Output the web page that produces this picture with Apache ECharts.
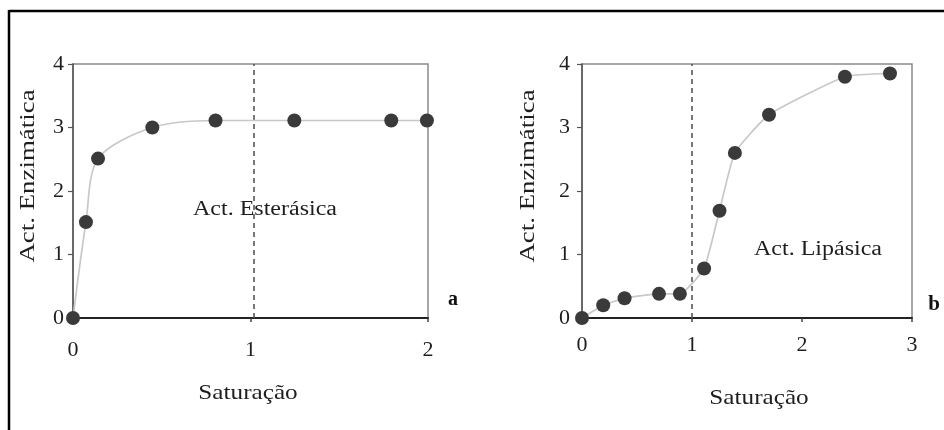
<!DOCTYPE html>
<html><head><meta charset="utf-8">
<script src="https://cdn.jsdelivr.net/npm/echarts@6/dist/echarts.min.js"></script>
<style>html,body{margin:0;padding:0;background:#fff}#c{width:944px;height:430px}</style>
</head><body><div id="c"></div>
<script>
// Panel a: esterase activity
const esterX = [0, 0.073, 0.141, 0.447, 0.803, 1.247, 1.793, 1.994];
const esterY = [0, 1.51, 2.51, 3.0, 3.11, 3.11, 3.11, 3.11];
// Panel b: lipase activity
const lipX = [0, 0.193, 0.387, 0.70, 0.89, 1.11, 1.25, 1.39, 1.70, 2.39, 2.80];
const lipY = [0, 0.20, 0.31, 0.38, 0.38, 0.78, 1.69, 2.60, 3.20, 3.80, 3.85];
// Tick labels
const xTicksA = [0, 1, 2];
const xTicksB = [0, 1, 2, 3];
const yTicks = [0, 1, 2, 3, 4];
// Dashed reference lines
const dashA = 1.02;
const dashB = 1.0;
// Texts
const yName = 'Act. Enzimática';
const xName = 'Saturação';
const labelA = 'Act. Esterásica';
const labelB = 'Act. Lipásica';
const panelA = 'a';
const panelB = 'b';

const FONT = '"Liberation Serif", "DejaVu Serif", serif';
const TXT = '#1e1e1e';

function zip(xs, ys) { return xs.map((x, i) => [x, ys[i]]); }

function xAxisCfg(idx, ticks, margin) {
  return {
    type: 'value', gridIndex: idx,
    min: ticks[0], max: ticks[ticks.length - 1], interval: ticks[1] - ticks[0],
    axisLine: { show: true, onZero: false, lineStyle: { color: '#222', width: 2 } },
    axisTick: { show: true, length: 4, lineStyle: { color: '#444', width: 1.5 } },
    axisLabel: { margin: margin, fontFamily: FONT, fontSize: 22, color: TXT },
    splitLine: { show: false }
  };
}
function yAxisCfg(idx, ticks, margin) {
  return {
    type: 'value', gridIndex: idx,
    min: ticks[0], max: ticks[ticks.length - 1], interval: ticks[1] - ticks[0],
    axisLine: { show: true, onZero: false, lineStyle: { color: '#555', width: 1.5 } },
    axisTick: { show: true, length: 5, lineStyle: { color: '#555', width: 1.2 } },
    axisLabel: { margin: margin, fontFamily: FONT, fontSize: 22, color: TXT },
    splitLine: { show: false }
  };
}
function seriesCfg(idx, data, smooth, dashX) {
  return {
    type: 'line', xAxisIndex: idx, yAxisIndex: idx,
    data: data, smooth: smooth, clip: false,
    symbol: 'circle', symbolSize: 14,
    itemStyle: { color: '#3a3a3a' },
    lineStyle: { color: '#c8c8c8', width: 1.7 },
    z: 5,
    markLine: {
      silent: true, symbol: 'none', animation: false,
      label: { show: false },
      lineStyle: { type: [5, 4], color: '#555', width: 1.6 },
      data: [{ xAxis: dashX }]
    }
  };
}
function txt(x, y, text, size, opts) {
  return Object.assign({
    type: 'text', x: x, y: y, z: 10,
    style: Object.assign({
      text: text, fontFamily: FONT, fontSize: size, fill: TXT,
      align: 'center', verticalAlign: 'middle'
    }, (opts && opts.style) || {})
  }, (opts && opts.el) || {});
}

const chart = echarts.init(document.getElementById('c'));
chart.setOption({
  animation: false,
  backgroundColor: '#fff',
  grid: [
    { left: 73, top: 64, width: 355, height: 254, show: true, borderColor: '#8a8a8a', borderWidth: 1.5 },
    { left: 582, top: 64, width: 330, height: 254, show: true, borderColor: '#8a8a8a', borderWidth: 1.5 }
  ],
  xAxis: [xAxisCfg(0, xTicksA, 21), xAxisCfg(1, xTicksB, 16)],
  yAxis: [yAxisCfg(0, yTicks, 9), yAxisCfg(1, yTicks, 12)],
  series: [
    seriesCfg(0, zip(esterX, esterY), 0.3, dashA),
    seriesCfg(1, zip(lipX, lipY), 0.15, dashB)
  ],
  graphic: [
    { type: 'line', shape: { x1: 9, y1: 11, x2: 944, y2: 11 }, style: { stroke: '#000', lineWidth: 2.5 } },
    { type: 'line', shape: { x1: 9, y1: 10, x2: 9, y2: 430 }, style: { stroke: '#000', lineWidth: 2.5 } },
    txt(28, 176, yName, 21, { el: { rotation: Math.PI / 2, scaleX: 1.28 } }),
    txt(528, 176, yName, 21, { el: { rotation: Math.PI / 2, scaleX: 1.28 } }),
    txt(248, 393, xName, 21, { el: { scaleX: 1.2 } }),
    txt(759, 398, xName, 21, { el: { scaleX: 1.2 } }),
    txt(265, 210, labelA, 20, { el: { scaleX: 1.2 } }),
    txt(818, 250, labelB, 20, { el: { scaleX: 1.2 } }),
    txt(453, 300, panelA, 20, { style: { fontWeight: 'bold', fill: '#111' } }),
    txt(934, 305, panelB, 21, { style: { fontWeight: 'bold', fill: '#111' } })
  ]
});
</script>
</body></html>
